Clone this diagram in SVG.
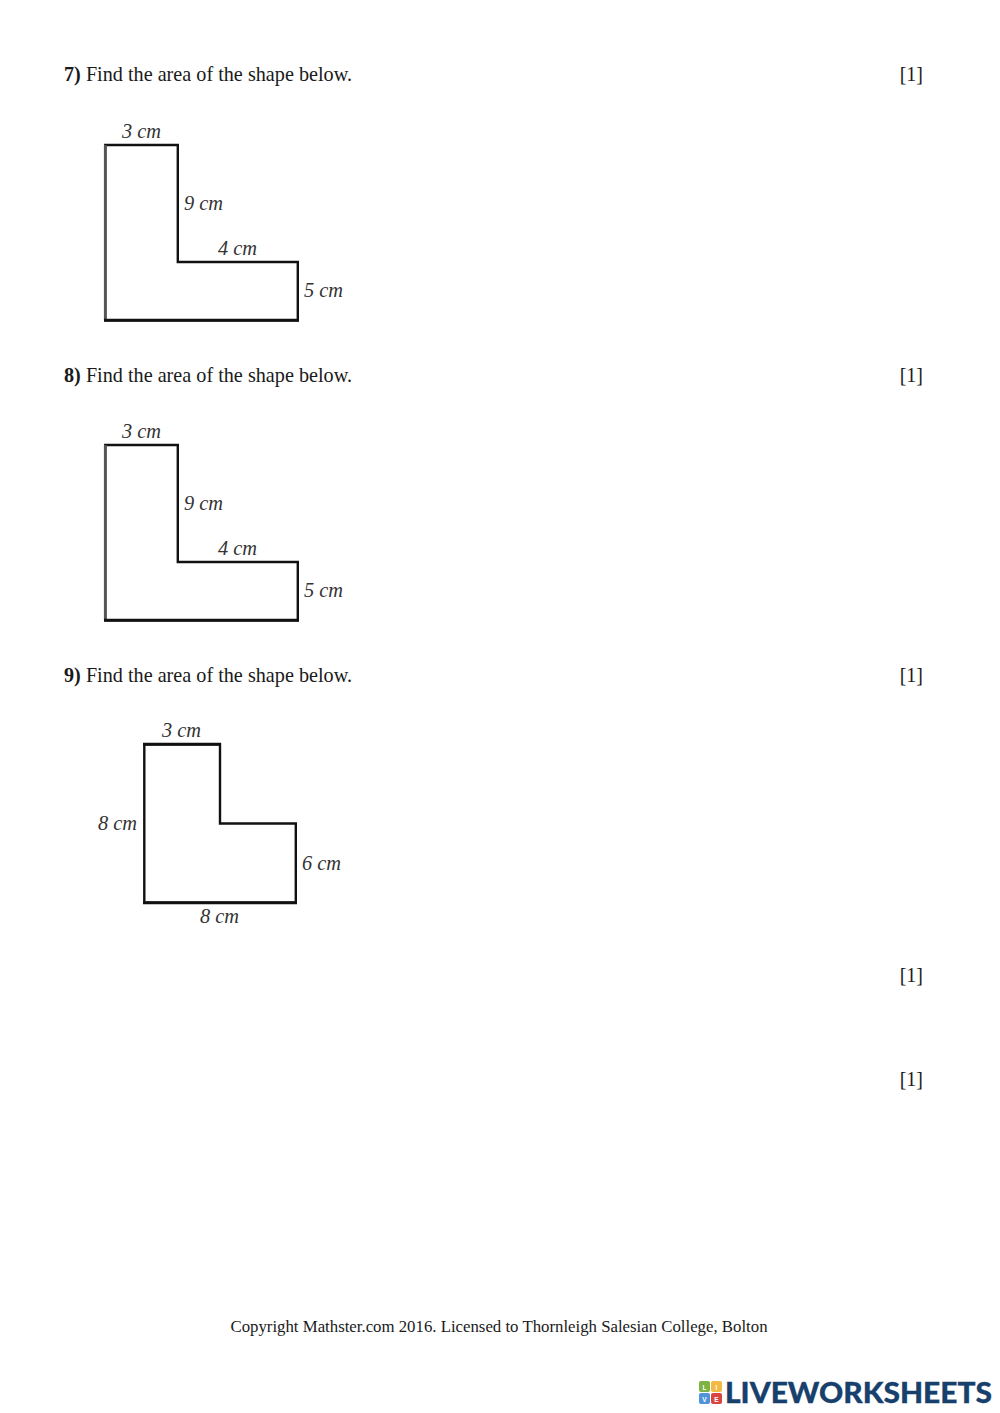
<svg xmlns="http://www.w3.org/2000/svg" width="1000" height="1413" viewBox="0 0 1000 1413">
<style>
text{font-family:"Liberation Serif","Times New Roman",serif;fill:#1a1a1a}
.q{font-size:20.2px}
.b{font-weight:bold}
.m{font-size:20px;text-anchor:end}
.l{font-size:20.4px;font-style:italic;fill:#333}
.s{fill:#fff;stroke:#111;stroke-width:2.4;stroke-linejoin:miter}
.e{fill:none;stroke:#111;stroke-width:3}
.g{fill:none;stroke:#555;stroke-width:2.8}
.t{font-family:"Liberation Sans",Arial,sans-serif;font-weight:bold;font-size:6.5px;fill:#fff;text-anchor:middle}
.w{font-family:Lato,"Liberation Sans",Arial,sans-serif;font-weight:900;font-size:29px;fill:#17406d;stroke:#17406d;stroke-width:.3}
</style>
<rect width="1000" height="1413" fill="#fff"/>
<g id="q7"><text class="q" x="64" y="80.500"><tspan class="b">7)</tspan> Find the area of the shape below.</text><text class="m" x="923" y="80.500">[1]</text></g>
<g id="shape7"><path class="s" d="M105.300 145H177.800V262H297.800V320.300H105.300Z"/><path class="g" d="M105.300 145V320.300"/><path class="e" d="M104 320.300H299"/><text class="l" x="122" y="138">3 cm</text><text class="l" x="184" y="210">9 cm</text><text class="l" x="218" y="255">4 cm</text><text class="l" x="304" y="297">5 cm</text></g>
<g id="q8"><text class="q" x="64" y="381.500"><tspan class="b">8)</tspan> Find the area of the shape below.</text><text class="m" x="923" y="381.500">[1]</text></g>
<g id="shape8"><path class="s" d="M105.300 445H177.800V562H297.800V620.300H105.300Z"/><path class="g" d="M105.300 445V620.300"/><path class="e" d="M104 620.300H299"/><text class="l" x="122" y="438">3 cm</text><text class="l" x="184" y="510">9 cm</text><text class="l" x="218" y="555">4 cm</text><text class="l" x="304" y="597">5 cm</text></g>
<g id="q9"><text class="q" x="64" y="681.500"><tspan class="b">9)</tspan> Find the area of the shape below.</text><text class="m" x="923" y="681.500">[1]</text></g>
<g id="shape9"><path class="s" d="M144.300 744.300H220V823.500H295.800V902.700H144.300Z"/><path class="e" d="M143 744.300H221M143 902.700H297"/><text class="l" x="162" y="737">3 cm</text><text class="l" x="98" y="830">8 cm</text><text class="l" x="302" y="870">6 cm</text><text class="l" x="200" y="923">8 cm</text></g>
<g id="marks"><text class="m" x="923" y="981.500">[1]</text><text class="m" x="923" y="1085.500">[1]</text></g>
<g id="footer"><text x="499" y="1332" font-size="16.800" text-anchor="middle">Copyright Mathster.com 2016. Licensed to Thornleigh Salesian College, Bolton</text></g>
<g id="logo">
<rect x="699" y="1381" width="11" height="11" rx="2" fill="#7cb342"/><rect x="711" y="1381" width="11" height="11" rx="2" fill="#f4b942"/>
<rect x="699" y="1393" width="11" height="11" rx="2" fill="#4f93d8"/><rect x="711" y="1393" width="11" height="11" rx="2" fill="#d9443f"/>
<text class="t" x="704.500" y="1389.500">L</text><text class="t" x="716.500" y="1389.500">I</text><text class="t" x="704.500" y="1401.500">V</text><text class="t" x="716.500" y="1401.500">E</text>
<text class="w" x="725" y="1403" textLength="267" lengthAdjust="spacingAndGlyphs">LIVEWORKSHEETS</text>
</g>
</svg>
